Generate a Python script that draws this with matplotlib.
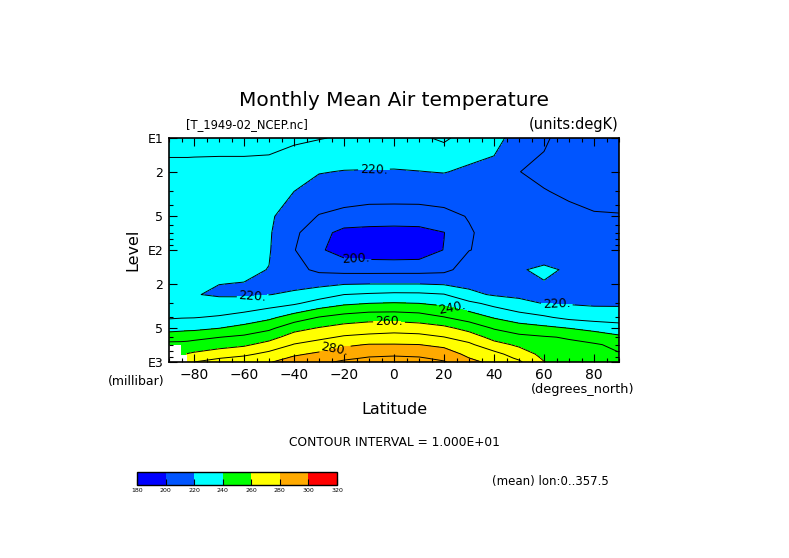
import numpy as np
import matplotlib
matplotlib.use('Agg')
import matplotlib.pyplot as plt
from matplotlib.colors import ListedColormap, BoundaryNorm

# latitude grid (degrees_north) and pressure levels (millibar)
lats = [-90, -85, -82.5, -80, -70, -60, -50, -40, -30, -20, -10, 0,
        10, 20, 30, 40, 50, 60, 70, 80, 90]
levels = [1000, 925, 850, 700, 600, 500, 400, 300, 250, 200, 150, 100,
          70, 50, 30, 20, 10]

nan = np.nan
# temperature (degK), one row per pressure level, columns follow lats
t1000 = [nan, nan, 267, 270, 273, 276, 279.2, 285, 288, 291.5, 294, 295,
         294, 290.8, 283, 277, 271.5, 260.3, 256.5, 255.5, 254]
t925 = [nan, nan, 264.5, 266.2, 269.8, 272.3, 276, 281.8, 285.2, 288.5, 290.9, 291.8,
        291, 288, 280.2, 275, 268.6, 258.6, 255, 254.5, 252.3]
t850 = [nan, 258, 260.5, 261.5, 265.1, 268, 272.6, 278.4, 281.8, 285.7, 287.9, 288.4,
        287.7, 285.1, 277.6, 273, 265.3, 257.1, 253.8, 253, 250.5]
t700 = [253, 252.5, 253, 253.9, 256, 258.3, 263.6, 270.5, 273.7, 278.2, 280.5, 280.5,
        280.1, 277.6, 271.8, 263.5, 258.2, 253.6, 251.8, 251, 248]
t600 = [245, 246.3, 246.5, 247.1, 249.8, 252, 256.2, 264.5, 267.9, 271.1, 272.4, 273.6,
        273, 270.2, 265.5, 256.5, 252.7, 250.8, 249.2, 245.6, 241.8]
t500 = [236.5, 237, 237.5, 237.6, 240, 243.3, 248, 256.5, 260.8, 264.2, 265.7, 266.1,
        265.1, 262.8, 256.5, 249.3, 244.5, 242.6, 240, 237, 234.4]
t400 = [229, 229.5, 229.6, 229.7, 231, 233.9, 237.8, 244.6, 250.5, 253.9, 256, 256.1,
        254.7, 250.5, 245.5, 239.3, 234.9, 231.4, 227.6, 226, 225.5]
t300 = [224, 224, 224, 224, 223.1, 223.5, 226, 228.7, 234.1, 238.3, 240.1, 240.7,
        240.1, 237.8, 232.6, 227.1, 222, 219.8, 219.3, 218.5, 218.5]
t250 = [221.2, 221, 220.5, 220.4, 219, 218.8, 219.8, 221.5, 225.4, 230, 231.2, 232.1,
        231.9, 230.5, 222.3, 219, 218.5, 219.4, 218.8, 217.5, 217.5]
t200 = [221.3, 221.2, 221, 221, 220.1, 219.8, 218.5, 217.5, 217.6, 219.3, 219.7, 219.7,
        219.7, 218.9, 217.7, 216.5, 217.5, 219.5, 218.5, 216.5, 216.5]
t150 = [222, 222, 222, 222, 221.5, 221.5, 219.8, 213, 208, 206.7, 206.5, 206.6,
        206.6, 207.6, 214.3, 213.5, 219.3, 221.5, 219, 215, 215]
t100 = [222.5, 222.5, 222.5, 222.5, 222.3, 222, 220.7, 210.5, 201.5, 195.5, 194, 193.5,
        194, 200.3, 209.8, 212, 215.5, 215.2, 215.5, 213.5, 213.5]
t70 = [223, 223, 223, 223, 222.7, 222.5, 221, 212, 203.5, 197, 196.5, 196,
       196.5, 199.8, 209.2, 213, 213.5, 212.5, 213.5, 212, 212]
t50 = [223.5, 223.5, 223.5, 223.5, 223.3, 223, 221.5, 215, 209.5, 207.5, 206, 206,
       206, 207.5, 210.5, 213, 212.5, 211.5, 211.5, 210.5, 210.3]
t30 = [225.3, 225.3, 225.2, 225.2, 225, 225, 223.5, 220, 216.1, 214.6, 214.3, 214.1,
       214.3, 214.6, 214.9, 214.5, 211.5, 210.3, 209, 208, 208]
t20 = [227.8, 227.8, 227.8, 227.7, 227.5, 227.5, 227, 224.5, 220.5, 219.6, 219.5, 219.4,
       219.8, 220.4, 218.4, 216, 210.1, 208.5, 207.5, 206.5, 206.5]
t10 = [233, 233, 233, 233, 233, 233, 233, 231.5, 230.5, 229, 227.5, 227,
       228.5, 231.5, 226, 224.5, 214, 211, 207, 206, 205.5]

temp = np.ma.masked_invalid(np.array([t1000, t925, t850, t700, t600, t500, t400,
                                      t300, t250, t200, t150, t100, t70, t50,
                                      t30, t20, t10]))

fill_bounds = [180, 200, 220, 240, 260, 280, 300, 320]
fill_colors = ['#0000ff', '#0055ff', '#00ffff', '#00ff00', '#ffff00', '#ffaa00', '#ff0000']
plain_levels = [180, 190, 210, 230, 250, 270, 290, 300, 310, 320]
labelled = [200, 220, 240, 260, 280]
# approximate spots (lat, log10 p) where the contour labels sit
label_pos = [(-8, 1.29), (-15.5, 2.10), (-56.5, 2.42), (23, 2.55),
             (65, 2.55), (-2, 2.64), (-24, 2.84)]

W, H = 789, 558
fig = plt.figure(figsize=(W / 100, H / 100), dpi=100)
fig.patch.set_facecolor('white')


def fx(px):
    return px / W


def fy(py):
    return 1 - py / H


ax = fig.add_axes([fx(169), fy(362), fx(619) - fx(169), fy(138) - fy(362)])

logp = np.log10(levels)
cmap = ListedColormap(fill_colors)
norm = BoundaryNorm(fill_bounds, cmap.N)
ax.contourf(lats, logp, temp, levels=fill_bounds, cmap=cmap, norm=norm, corner_mask=False)
ax.contour(lats, logp, temp, levels=plain_levels, colors='black', linewidths=0.7,
           corner_mask=False)
cs = ax.contour(lats, logp, temp, levels=labelled, colors='black', linewidths=0.7,
                corner_mask=False)
ax.clabel(cs, manual=label_pos, inline=True, fmt='%d.', fontsize=9, inline_spacing=2)

ax.set_xlim(-90, 90)
ax.set_ylim(3, 1)

# y axis: log pressure ticks
yt = [10, 20, 50, 100, 200, 500, 1000]
ytl = ['E1', '2', '5', 'E2', '2', '5', 'E3']
ax.set_yticks(np.log10(yt))
ax.set_yticklabels(ytl)
minor_p = [30, 40, 60, 70, 80, 90, 300, 400, 600, 700, 800, 900]
ax.set_yticks(np.log10(minor_p), minor=True)
ax.set_xticks(np.arange(-80, 81, 20))
ax.set_xticklabels(['\u221280', '\u221260', '\u221240', '\u221220', '0', '20', '40', '60', '80'])
ax.set_xticks(np.arange(-90, 91, 5), minor=True)
ax.tick_params(which='both', direction='in', top=True, right=True,
               width=0.8, pad=4)
ax.tick_params(axis='x', labelsize=10)
ax.tick_params(axis='y', labelsize=9)
ax.tick_params(which='major', length=6)
ax.tick_params(which='minor', length=3)
for sp in ax.spines.values():
    sp.set_linewidth(1.2)

fig.text(fx(394), fy(101), 'Monthly Mean Air temperature', ha='center', va='center', fontsize=14.5)
fig.text(fx(186), fy(125), '[T_1949-02_NCEP.nc]', ha='left', va='center', fontsize=8.3)
fig.text(fx(619), fy(125), '(units:degK)', ha='right', va='center', fontsize=10.5)
fig.text(fx(133), fy(250), 'Level', ha='center', va='center', rotation=90, fontsize=11.5)
fig.text(fx(108), fy(382), '(millibar)', ha='left', va='center', fontsize=9)
fig.text(fx(634), fy(390), '(degrees_north)', ha='right', va='center', fontsize=9.3)
fig.text(fx(394), fy(410), 'Latitude', ha='center', va='center', fontsize=11.5)
fig.text(fx(394), fy(443), 'CONTOUR INTERVAL = 1.000E+01', ha='center', va='center', fontsize=8.8)
fig.text(fx(492), fy(482), '(mean) lon:0..357.5', ha='left', va='center', fontsize=8.5)

# colour bar
cax = fig.add_axes([fx(137), fy(485), fx(337) - fx(137), fy(472) - fy(485)])
sm = plt.cm.ScalarMappable(cmap=cmap, norm=norm)
cb = fig.colorbar(sm, cax=cax, orientation='horizontal', ticks=fill_bounds)
cb.set_ticklabels([str(b) for b in fill_bounds])
cax.tick_params(direction='in', length=4, width=0.8, labelsize=4.5, pad=2)
cb.outline.set_linewidth(1.0)

fig.savefig('out.png', dpi=100)
